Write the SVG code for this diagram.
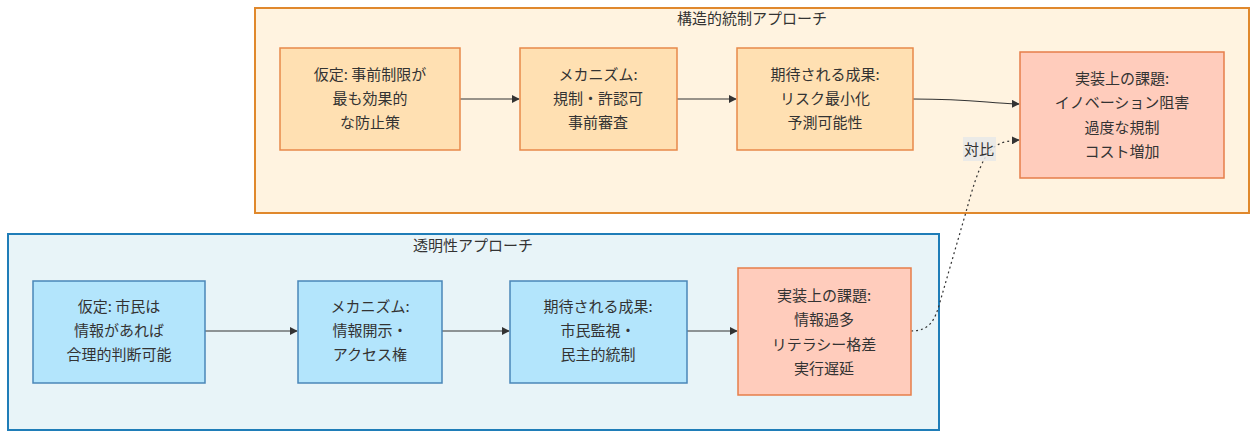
<svg xmlns="http://www.w3.org/2000/svg" width="1257" height="438" viewBox="0 0 1257 438">
<style>
text{font-family:"Noto Sans CJK JP","Liberation Sans",sans-serif;font-size:15px;fill:#333;text-anchor:middle;}
.ct{font-size:15px;}
.clT{fill:#FFF3E0;stroke:#E0882C;stroke-width:2;}
.clB{fill:#E8F4F8;stroke:#1F7DB8;stroke-width:2;}
.nO{fill:#FFE0B2;stroke:#E8894A;stroke-width:1.5;}
.nR{fill:#FFCCBC;stroke:#E67E4A;stroke-width:1.5;}
.nB{fill:#B3E5FC;stroke:#4A86B8;stroke-width:1.5;}
.e{fill:none;stroke:#333;stroke-width:1.2;}
.d{fill:none;stroke:#333;stroke-width:1.2;stroke-dasharray:2,3;}
</style>
<defs>
<marker id="ah" viewBox="0 0 10 10" refX="9" refY="5" markerWidth="8" markerHeight="8" orient="auto" markerUnits="userSpaceOnUse">
<path d="M0,0 L10,5 L0,10 z" fill="#333"/>
</marker>
</defs>
<g id="cluster-struct">
<rect class="clT" x="255" y="8" width="994" height="205"/>
<text class="ct" x="752" y="24">構造的統制アプローチ</text>
</g>
<g id="cluster-trans">
<rect class="clB" x="8" y="234" width="931" height="196"/>
<text class="ct" x="473" y="251">透明性アプローチ</text>
</g>
<g id="connectors">
<path class="e" d="M460,99 L519,99" marker-end="url(#ah)"/>
<path class="e" d="M677,99 L736,99" marker-end="url(#ah)"/>
<path class="e" d="M913,99 C975,99 985,103 1019,104" marker-end="url(#ah)"/>
<path class="e" d="M205,331 L297,331" marker-end="url(#ah)"/>
<path class="e" d="M442,331 L509,331" marker-end="url(#ah)"/>
<path class="e" d="M687,331 L737,331" marker-end="url(#ah)"/>
<path class="d" d="M911,331 C930,331 935,320 940,302 L966,212 C972,190 978,170 985,158 C992,146 1000,141 1019,140" marker-end="url(#ah)"/>
<rect x="963" y="137" width="33" height="24" fill="#E8E8E8" opacity="0.85"/>
<text x="979" y="155">対比</text>
</g>
<g id="s1">
<rect class="nO" x="280" y="48" width="180" height="102"/>
<text x="370" y="80">仮定: 事前制限が</text>
<text x="370" y="104">最も効果的</text>
<text x="370" y="128">な防止策</text>
</g>
<g id="s2">
<rect class="nO" x="520" y="48" width="157" height="102"/>
<text x="598" y="80">メカニズム:</text>
<text x="598" y="104">規制・許認可</text>
<text x="598" y="128">事前審査</text>
</g>
<g id="s3">
<rect class="nO" x="737" y="48" width="176" height="102"/>
<text x="825" y="80">期待される成果:</text>
<text x="825" y="104">リスク最小化</text>
<text x="825" y="128">予測可能性</text>
</g>
<g id="s4">
<rect class="nR" x="1020" y="52" width="204" height="126"/>
<text x="1122" y="84">実装上の課題:</text>
<text x="1122" y="108">イノベーション阻害</text>
<text x="1122" y="133">過度な規制</text>
<text x="1122" y="157">コスト増加</text>
</g>
<g id="t1">
<rect class="nB" x="33" y="281" width="172" height="102"/>
<text x="119" y="312">仮定: 市民は</text>
<text x="119" y="336">情報があれば</text>
<text x="119" y="360">合理的判断可能</text>
</g>
<g id="t2">
<rect class="nB" x="298" y="281" width="144" height="102"/>
<text x="370" y="312">メカニズム:</text>
<text x="370" y="336">情報開示・</text>
<text x="370" y="360">アクセス権</text>
</g>
<g id="t3">
<rect class="nB" x="510" y="281" width="177" height="102"/>
<text x="598" y="312">期待される成果:</text>
<text x="598" y="336">市民監視・</text>
<text x="598" y="360">民主的統制</text>
</g>
<g id="t4">
<rect class="nR" x="738" y="268" width="173" height="127"/>
<text x="824" y="301">実装上の課題:</text>
<text x="824" y="325">情報過多</text>
<text x="824" y="350">リテラシー格差</text>
<text x="824" y="374">実行遅延</text>
</g>
</svg>
